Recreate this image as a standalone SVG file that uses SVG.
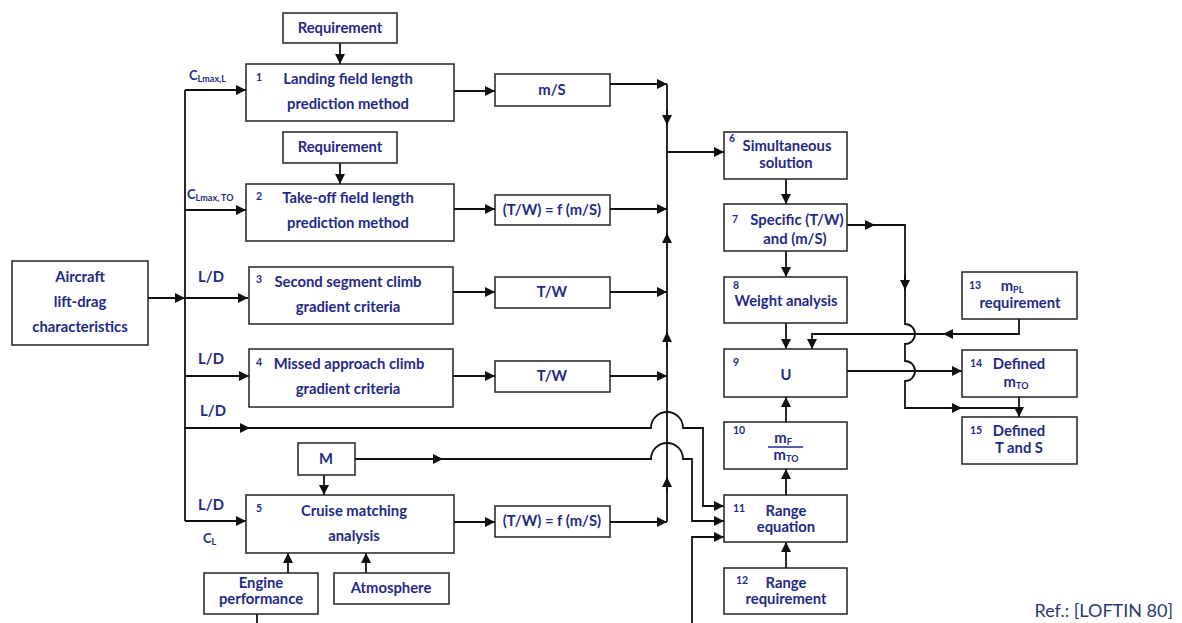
<svg xmlns="http://www.w3.org/2000/svg" width="1182" height="623" viewBox="0 0 1182 623">
<style>
.b{fill:#fff;stroke:#222;stroke-width:1.5}
.t{font-family:Lato,"Liberation Sans",sans-serif;font-weight:700;font-size:14.8px;fill:#1f2a86;text-anchor:middle}
.n{font-family:Lato,"Liberation Sans",sans-serif;font-weight:700;font-size:10.5px;fill:#1f2a86}
.s{font-size:9px}
.c{fill:none;stroke:#111;stroke-width:1.8}
.a{fill:none;stroke:#111;stroke-width:1.8;marker-end:url(#ah)}
</style>
<defs>
<marker id="ah" markerUnits="userSpaceOnUse" viewBox="0 0 10 10" refX="10" refY="5" markerWidth="12" markerHeight="10" orient="auto"><path d="M0,0 L10,5 L0,10 z" fill="#111"/></marker>
</defs>
<rect width="1182" height="623" fill="#fff"/>
<g id="connectors">
<path class="a" d="M340 43 V64"/>
<path class="a" d="M340 163 V184"/>
<path class="c" d="M185 90 V521"/>
<path class="a" d="M185 90 H246"/>
<path class="a" d="M185 210 H246"/>
<path class="a" d="M148 298 H185"/>
<path class="a" d="M185 298 H248"/>
<path class="a" d="M185 376 H249"/>
<path class="a" d="M185 521 H246"/>
<path class="a" d="M454 91 H495"/>
<path class="a" d="M454 209 H495"/>
<path class="a" d="M453 292 H495"/>
<path class="a" d="M453 376 H495"/>
<path class="a" d="M454 522 H495"/>
<path class="a" d="M610 84 H667"/>
<path class="a" d="M610 209 H667"/>
<path class="a" d="M610 292 H667"/>
<path class="a" d="M610 376 H667"/>
<path class="a" d="M610 522 H667"/>
<path class="c" d="M667 84 V522"/>
<path class="a" d="M667 110 V125"/>
<path class="a" d="M667 248 V233"/>
<path class="a" d="M667 347 V332"/>
<path class="a" d="M667 492 V477"/>
<path class="a" d="M667 152 H724"/>
<path class="a" d="M786 179 V204"/>
<path class="a" d="M786 251 V277"/>
<path class="a" d="M786 323 V349"/>
<path class="a" d="M786 422 V397"/>
<path class="a" d="M786 495 V469"/>
<path class="a" d="M786 568 V542"/>
<path class="a" d="M185 428 H651 A16 16 0 0 1 683 428 H703 V506 H724"/>
<path class="a" d="M235 428 H250"/>
<path class="a" d="M355 459 H651 A16 16 0 0 1 683 459 H692 V521 H724"/>
<path class="a" d="M428 459 H443"/>
<path class="a" d="M692 623 V537 H724"/>
<path class="c" d="M257 614 V623"/>
<path class="a" d="M288 573 V553"/>
<path class="a" d="M366 573 V553"/>
<path class="a" d="M324 475 V495"/>
<path class="c" d="M847 225 H905 V324 A10 10 0 0 1 905 344 V361 A10 10 0 0 1 905 381 V408 H1019"/>
<path class="a" d="M860 225 H875"/>
<path class="a" d="M905 275 V290"/>
<path class="a" d="M945 408 H962"/>
<path class="a" d="M1019 397 V417"/>
<path class="a" d="M1019 319 V334 H812 V349"/>
<path class="a" d="M960 334 H943"/>
<path class="a" d="M847 371 H962"/>
</g>
<g id="req1"><rect class="b" x="283" y="13" width="114" height="30"/><text class="t" x="340" y="33">Requirement</text></g>
<g id="n1"><rect class="b" x="246" y="64" width="208" height="57"/><text class="n" x="256" y="81">1</text><text class="t" x="348" y="84">Landing field length</text><text class="t" x="348" y="109">prediction method</text></g>
<g id="req2"><rect class="b" x="283" y="132" width="114" height="31"/><text class="t" x="340" y="152">Requirement</text></g>
<g id="n2"><rect class="b" x="246" y="184" width="208" height="57"/><text class="n" x="256" y="200">2</text><text class="t" x="348" y="203">Take-off field length</text><text class="t" x="348" y="228">prediction method</text></g>
<g id="n3"><rect class="b" x="249" y="267" width="204" height="57"/><text class="n" x="256" y="283">3</text><text class="t" x="348" y="287">Second segment climb</text><text class="t" x="348" y="312">gradient criteria</text></g>
<g id="n4"><rect class="b" x="249" y="349" width="204" height="58"/><text class="n" x="256" y="366">4</text><text class="t" x="349" y="369">Missed approach climb</text><text class="t" x="348" y="394">gradient criteria</text></g>
<g id="n5"><rect class="b" x="246" y="495" width="208" height="58"/><text class="n" x="256" y="512">5</text><text class="t" x="354" y="516">Cruise matching</text><text class="t" x="354" y="541">analysis</text></g>
<g id="aircraft"><rect class="b" x="12" y="261" width="136" height="84"/><text class="t" x="80" y="282">Aircraft</text><text class="t" x="80" y="307">lift-drag</text><text class="t" x="80" y="332">characteristics</text></g>
<g id="labels">
<text class="t" x="189" y="80" style="text-anchor:start;font-size:13px">C<tspan class="s" dy="2">Lmax,L</tspan></text>
<text class="t" x="187" y="199" style="text-anchor:start;font-size:13px">C<tspan class="s" dy="2">Lmax, TO</tspan></text>
<text class="t" x="211" y="282">L/D</text>
<text class="t" x="211" y="364">L/D</text>
<text class="t" x="213" y="416">L/D</text>
<text class="t" x="211" y="510">L/D</text>
<text class="t" x="203" y="543" style="text-anchor:start;font-size:13px">C<tspan class="s" dy="2">L</tspan></text>
</g>
<g id="ms"><rect class="b" x="495" y="74" width="115" height="32"/><text class="t" x="552" y="95">m/S</text></g>
<g id="tw1"><rect class="b" x="495" y="195" width="115" height="30"/><text class="t" x="552" y="215">(T/W) = f (m/S)</text></g>
<g id="tw2"><rect class="b" x="495" y="277" width="115" height="31"/><text class="t" x="552" y="297">T/W</text></g>
<g id="tw3"><rect class="b" x="495" y="361" width="115" height="31"/><text class="t" x="552" y="381">T/W</text></g>
<g id="tw4"><rect class="b" x="495" y="506" width="115" height="31"/><text class="t" x="552" y="526">(T/W) = f (m/S)</text></g>
<g id="m"><rect class="b" x="298" y="443" width="57" height="32"/><text class="t" x="326" y="464">M</text></g>
<g id="engine"><rect class="b" x="204" y="573" width="114" height="41"/><text class="t" x="261" y="588">Engine</text><text class="t" x="261" y="604">performance</text></g>
<g id="atmos"><rect class="b" x="334" y="573" width="115" height="31"/><text class="t" x="391" y="593">Atmosphere</text></g>
<g id="n6"><rect class="b" x="724" y="132" width="123" height="47"/><text class="n" x="729" y="142">6</text><text class="t" x="787" y="151">Simultaneous</text><text class="t" x="786" y="168">solution</text></g>
<g id="n7"><rect class="b" x="724" y="204" width="123" height="47"/><text class="n" x="732" y="223">7</text><text class="t" x="797" y="225">Specific (T/W)</text><text class="t" x="795" y="244">and (m/S)</text></g>
<g id="n8"><rect class="b" x="724" y="277" width="123" height="46"/><text class="n" x="733" y="289">8</text><text class="t" x="786" y="306">Weight analysis</text></g>
<g id="n9"><rect class="b" x="724" y="349" width="123" height="48"/><text class="n" x="733" y="366">9</text><text class="t" x="786" y="380">U</text></g>
<g id="n10"><rect class="b" x="724" y="422" width="123" height="47"/><text class="n" x="733" y="434">10</text><text class="t" x="783" y="443">m<tspan class="s" dy="2">F</tspan></text><line x1="768" y1="447" x2="803" y2="447" stroke="#1f2a86" stroke-width="1.3"/><text class="t" x="786" y="460">m<tspan class="s" dy="2">TO</tspan></text></g>
<g id="n11"><rect class="b" x="724" y="495" width="123" height="47"/><text class="n" x="733" y="512">11</text><text class="t" x="786" y="516">Range</text><text class="t" x="786" y="532">equation</text></g>
<g id="n12"><rect class="b" x="724" y="568" width="123" height="46"/><text class="n" x="736" y="584">12</text><text class="t" x="786" y="588">Range</text><text class="t" x="786" y="604">requirement</text></g>
<g id="n13"><rect class="b" x="962" y="272" width="115" height="47"/><text class="n" x="969" y="289">13</text><text class="t" x="1012" y="291">m<tspan class="s" dy="2">PL</tspan></text><text class="t" x="1020" y="308">requirement</text></g>
<g id="n14"><rect class="b" x="962" y="350" width="115" height="47"/><text class="n" x="970" y="367">14</text><text class="t" x="1019" y="369">Defined</text><text class="t" x="1016" y="387">m<tspan class="s" dy="2">TO</tspan></text></g>
<g id="n15"><rect class="b" x="962" y="417" width="115" height="47"/><text class="n" x="970" y="434">15</text><text class="t" x="1019" y="436">Defined</text><text class="t" x="1019" y="453">T and S</text></g>
<text x="1173" y="617" style="font-family:Lato,'Liberation Sans',sans-serif;font-size:18px;fill:#2b3a6e;text-anchor:end">Ref.: [LOFTIN 80]</text>
</svg>
